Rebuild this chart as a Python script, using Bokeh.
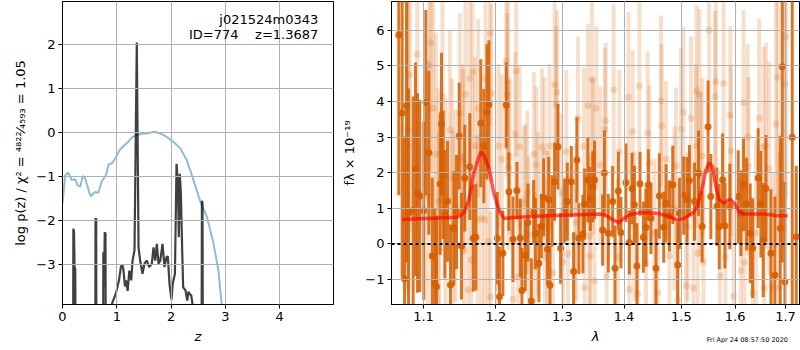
from bokeh.plotting import figure
from bokeh.models import ColumnDataSource, Range1d, FixedTicker, Label, Span, Div
from bokeh.layouts import row, column
from bokeh.embed import file_html
from bokeh.resources import INLINE
import pandas as pd

FONT = "DejaVu Sans"

# ---------------- left panel data: log p(z) ----------------
prior_z = [0.0, 0.05, 0.1, 0.14, 0.17, 0.23, 0.28, 0.33, 0.37, 0.42, 0.48, 0.52, 0.6, 0.66, 0.72,
           0.8, 0.85, 0.91, 0.97, 1.05, 1.13, 1.21, 1.28, 1.37, 1.46, 1.55, 1.69, 1.8, 1.92, 2.04,
           2.17, 2.29, 2.41, 2.53, 2.66, 2.78, 2.87, 2.93, 3.0]
prior_logp = [-1.61, -0.97, -0.91, -1.0, -1.08, -1.06, -1.2, -1.23, -0.99, -1.05, -1.31, -1.45, -1.35, -1.37, -1.12,
              -0.97, -0.72, -0.70, -0.59, -0.40, -0.30, -0.21, -0.11, -0.06, -0.03, -0.02, 0.02, -0.02, -0.10, -0.21,
              -0.36, -0.63, -1.08, -1.54, -1.92, -2.52, -3.13, -3.89, -4.5]

pz_z = [0.0, 0.19, 0.200, 0.212, 0.222, 0.235, 0.245,
        0.600, 0.608, 0.620, 0.628,
        0.745, 0.752, 0.765, 0.778, 0.792, 0.800,
        0.86, 0.92, 0.98, 1.04, 1.075, 1.10, 1.12, 1.15, 1.17, 1.20, 1.23, 1.265, 1.29, 1.326,
        1.35, 1.368, 1.387, 1.40, 1.43, 1.473, 1.51, 1.553, 1.597, 1.645, 1.676, 1.707, 1.737,
        1.768, 1.80, 1.842, 1.878, 1.915, 1.94, 1.97, 2.007, 2.03, 2.07, 2.10, 2.124, 2.142,
        2.16, 2.18, 2.204, 2.222, 2.265, 2.296, 2.32, 2.339, 2.37, 2.40, 2.42,
        2.555, 2.567, 2.578, 2.59, 4.99]
pz_logp = [-8, -8, -2.19, -2.25, -3.06, -3.1, -8,
           -8, -1.96, -1.96, -8,
           -8, -2.72, -3.5, -2.27, -2.3, -8,
           -4.2, -3.86, -3.67, -3.36, -3.06, -3.0, -3.1, -3.5, -3.36, -3.6, -3.14, -3.36, -2.91, -2.68,
           0.05, 2.05, -0.71, -2.61, -2.91, -3.21, -2.98, -2.91, -3.06, -2.98, -2.61, -2.91, -2.53,
           -2.98, -2.91, -2.53, -3.06, -2.83, -2.82, -3.44, -3.8, -3.44, -3.21, -0.71, -1.17, -2.38,
           -0.94, -1.39, -2.68, -3.52, -3.59, -3.82, -3.62, -3.67, -3.70, -3.95, -8,
           -8, -1.55, -1.6, -8, -8]

z_ticks = [0, 1, 2, 3, 4]
logp_ticks = [-3, -2, -1, 0, 1, 2]

# ---------------- right panel data: spectrum ----------------
dark_wave = [1.0678, 1.0722, 1.0752, 1.0778, 1.0804, 1.0864, 1.0895, 1.0921, 1.0951, 1.1004,
             1.1031, 1.1071, 1.1116, 1.1150, 1.1173, 1.1223, 1.1241, 1.1264, 1.1286, 1.1323,
             1.1363, 1.1409, 1.1446, 1.1483, 1.1514, 1.1560, 1.1630, 1.1678, 1.1715, 1.1785,
             1.1828, 1.1871, 1.1900, 1.2021, 1.2053, 1.2102, 1.2151, 1.2190, 1.2249, 1.2308,
             1.2358, 1.2382, 1.2433, 1.2472, 1.2523, 1.2558, 1.2584, 1.2638, 1.2675, 1.2709,
             1.2767, 1.2787, 1.2807, 1.2838, 1.2879, 1.2931, 1.2972, 1.3035, 1.3077, 1.3140,
             1.3176, 1.3228, 1.3260, 1.3324, 1.3351, 1.3404, 1.3443, 1.3485, 1.3513, 1.3644,
             1.3672, 1.3738, 1.3809, 1.3848, 1.3904, 1.3948, 1.4032, 1.4090, 1.4134, 1.4175,
             1.4219, 1.4271, 1.4329, 1.4374, 1.4416, 1.4460, 1.4548, 1.4607, 1.4684, 1.4725,
             1.4785, 1.4844, 1.4933, 1.4964, 1.5041, 1.5102, 1.5145, 1.5237, 1.5311, 1.5378,
             1.5489, 1.5540, 1.5653, 1.5697, 1.5761, 1.5805, 1.5900, 1.6060, 1.6112, 1.6164,
             1.6223, 1.6293, 1.6340, 1.6450, 1.6504, 1.6550, 1.6604, 1.6704, 1.6785, 1.6892,
             1.6933, 1.6988, 1.7138, 1.7221]
dark_flux = [5.87, 3.68, -0.98, 3.88, 0.87, 0.94, 2.1, 1.43, 1.35, 0.93,
             3.97, 2.56, -0.34, -1.09, -1.2, 1.69, 3.37, 1.94, 0.84, 1.2,
             -1.15, 0.44, 0.9, 3.03, -0.06, 1.85, 2.17, 0.16, 0.19, 3.39,
             2.75, 3.71, 3.92, 0.16, -1.48, -0.26, 3.9, 1.47, 0.13, 1.5,
             0.17, -1.31, -0.32, 0.6, -1.6, 0.9, 0.3, -0.54, 0.5, 1.31,
             -0.15, 1.24, -1.16, 0.93, 1.75, 2.73, -0.12, 0.94, 1.19, 1.75,
             -0.77, 2.36, 0.16, 0.28, 1.12, 1.8, 1.27, 1.61, 1.8, 0.39,
             1.99, 0.3, 1.19, -0.68, 1.49, 0.32, 1.72, 0.04, 1.56, 1.1,
             -0.62, 1.69, 0.19, 0.46, 1.66, 0.72, -0.68, 1.35, 0.47, 1.14,
             0.79, 1.66, -0.59, 0.86, 1.36, 1.24, 1.78, 1.19, 1.99, 0.49,
             3.29, 1.33, 1.05, 0.49, 1.8, 0.51, 1.05, 1.33, 0.86, 1.66,
             1.12, 0.3, -0.12, 1.85, 1.12, 0.11, 1.56, -0.26, -0.87, 0.44,
             4.98, -1.06, 3.0, 0.2]
dark_err = [4.5, 4.6, 4.0, 4.4, 3.5,
            3.2, 3.0, 2.8, 2.7, 2.5, 2.6, 2.3,
            2.2, 2.1, 2.0, 2.0, 2.0, 1.8, 1.8, 1.7, 1.7, 1.6, 1.6, 1.5, 1.5,
            1.5, 1.5, 1.5, 1.5, 1.8, 1.6, 1.9, 1.8,
            1.3, 1.4, 1.2, 1.2, 1.1, 1.2, 0.8, 1.1, 1.2, 1.0,
            1.1, 1.2, 0.9, 1.0, 1.1, 0.9, 1.1, 1.0, 1.2, 1.1,
            1.0, 1.1, 1.2, 1.0, 0.9, 1.1, 1.0, 1.1, 1.2, 1.0,
            1.1, 1.0, 1.2, 0.9, 1.0, 1.1, 1.0, 1.2, 1.1, 1.0,
            1.2, 1.1, 1.0, 1.1, 0.9, 1.0, 1.1, 1.2, 0.9, 1.0,
            1.1, 1.0, 1.0, 1.1, 1.2, 1.0, 1.1, 1.0, 1.1, 1.2,
            1.0, 1.1, 1.2, 1.0, 1.1, 1.2, 1.0,
            1.3, 1.2, 1.1, 1.2, 1.3, 1.2, 1.2, 1.3, 1.2, 1.3, 1.3, 1.4, 1.4,
            1.4, 1.5, 1.6, 1.5, 1.8,
            2.2, 2.6, 5.5, 2.8,
            8.0, 2.0]

light_wave = [1.0787, 1.0800, 1.0821, 1.0917, 1.1054, 1.1076, 1.1097, 1.1129, 1.1164, 1.1197,
              1.1207, 1.1254, 1.1295, 1.1354, 1.1386, 1.1400, 1.1432, 1.1491, 1.1524, 1.1538,
              1.1548, 1.1569, 1.1607, 1.1630, 1.1654, 1.1668, 1.1701, 1.1739, 1.1748, 1.1796,
              1.1843, 1.1852, 1.1891, 1.1914, 1.1924, 1.1938, 1.2029, 1.2038, 1.2087, 1.2151,
              1.2165, 1.2175, 1.2185, 1.2200, 1.2249, 1.2284, 1.2298, 1.2322, 1.2348, 1.2412,
              1.2437, 1.2463, 1.2483, 1.2562, 1.2572, 1.2598, 1.2623, 1.2683, 1.2724, 1.2732,
              1.2775, 1.2801, 1.2852, 1.2879, 1.2905, 1.2915, 1.2983, 1.3008, 1.3061, 1.3086,
              1.3193, 1.3220, 1.3245, 1.3341, 1.3352, 1.3406, 1.3432, 1.3441, 1.3469, 1.3485,
              1.3513, 1.3541, 1.3607, 1.3682, 1.3694, 1.3710, 1.3826, 1.3893, 1.3921, 1.4073,
              1.4090, 1.4146, 1.4175, 1.4232, 1.4260, 1.4374, 1.4403, 1.4433, 1.4519, 1.4578,
              1.4636, 1.4648, 1.4725, 1.4785, 1.4874, 1.4903, 1.4933, 1.4993, 1.5036, 1.5084,
              1.5114, 1.5175, 1.5218, 1.5266, 1.5275, 1.5297, 1.5329, 1.5347, 1.5384, 1.5402,
              1.5508, 1.5620, 1.5634, 1.5716, 1.5780, 1.5814, 1.5906, 1.5919, 1.5972, 1.6113,
              1.6164, 1.6180, 1.6243, 1.6258, 1.6340, 1.6405, 1.6470, 1.6558, 1.6570, 1.6604,
              1.6670, 1.6738, 1.6805, 1.6840, 1.6872, 1.6988, 1.7009]
light_flux = [3.22, 2.75, 4.75, 5.33, 1.35, 5.03, 5.65, 3.81, 2.53, 1.19,
              -0.17, 4.14, 1.19, 3.2, 1.85, 0.49, 1.07, 3.67, 2.45, 2.31,
              -0.17, 4.2, -1.29, 4.65, -0.45, 4.84, 2.76, 0.67, 3.81, 0.72,
              0.67, 4.65, 0.06, 5.92, -1.48, 4.23, -1.22, 2.75, 2.38, 5.14,
              4.19, 4.53, 2.13, 2.45, -1.55, 3.09, 4.86, -0.92, 2.73, 1.12,
              1.26, 1.44, 0.25, 2.53, -0.64, 2.22, 0.86, 2.73, 2.58, -0.37,
              0.41, 2.75, -0.8, 4.47, 3.92, 4.26, 1.44, -0.5, 2.59, -0.28,
              0.21, 0.6, 3.53, 2.75, -1.22, 3.88, 0.22, -0.34, 4.61, 2.47,
              -1.03, 3.81, 2.22, 3.22, 3.46, -0.9, 4.33, -0.37, 2.59, 4.12,
              -1.27, 3.15, 0.49, -1.4, 4.44, -0.54, 3.11, 2.27, 0.3, -1.38,
              4.02, 3.31, 2.38, -0.34, 1.0, 2.19, -1.57, 3.22, 3.7, -1.17,
              0.49, 3.53, -1.24, 2.75, 4.31, -0.26, 4.2, 1.94, 2.47, -0.5,
              6.01, 4.14, 4.56, -0.89, 4.51, -0.37, 3.62, 2.62, -1.46, -0.75,
              3.97, -0.52, 3.01, 2.19, -1.38, 0.3, 3.53, 2.73, -1.24, 2.75,
              2.13, -1.2, 3.37, 4.68, -1.24, 4.49, 5.81]
light_err = [4.5, 4.2, 4.4, 4.0, 3.8, 4.0, 3.6, 3.5, 3.4, 3.2, 3.3, 3.0,
             2.9, 2.8, 2.8, 2.7, 2.7, 2.8, 2.6, 2.6, 2.7, 2.6, 2.5, 2.6,
             2.5, 2.6, 2.5, 2.4, 2.5, 2.5, 2.4, 2.6, 2.5, 2.6, 2.4, 2.5,
             2.4, 2.3, 2.4, 2.5, 2.3, 2.4, 2.3, 2.2, 2.4, 2.3, 2.4, 2.2,
             2.3, 2.2, 2.1, 2.3, 2.2, 2.3, 2.1, 2.2, 2.3, 2.2, 2.1, 2.2,
             2.2, 2.3, 2.1, 2.4, 2.2, 2.3, 2.2, 2.1, 2.3, 2.2, 2.1, 2.2,
             2.3, 2.2, 2.1, 2.3, 2.2, 2.1, 2.4, 2.2, 2.1, 2.3, 2.2, 2.3,
             2.2, 2.1, 2.4, 2.2, 2.3, 2.4, 2.2, 2.3, 2.1, 2.2, 2.4, 2.2,
             2.3, 2.2, 2.1, 2.2, 2.4, 2.3, 2.2, 2.1, 2.3, 2.2, 2.2, 2.3,
             2.4, 2.2, 2.1, 2.3, 2.2, 2.3, 2.4, 2.2, 2.4, 2.3, 2.2, 2.3,
             2.6, 2.4, 2.5, 2.4, 2.5, 2.4, 2.5, 2.4, 2.5, 2.6, 2.6, 2.5,
             2.6, 2.5, 2.7, 2.6, 2.8, 2.8, 2.9, 2.9, 3.0, 3.2, 3.5, 3.8, 3.8, 4.2, 4.5]

model_wave = [1.0722, 1.1455, 1.1546, 1.1616, 1.1686, 1.1757, 1.1791, 1.1838, 1.1900, 1.1971,
              1.2044, 1.2117, 1.2513, 1.3024, 1.3608, 1.3710, 1.3830, 1.3914, 1.3998, 1.4112,
              1.4283, 1.4577, 1.4749, 1.4928, 1.5048, 1.5201, 1.5293, 1.5385, 1.5447, 1.5508,
              1.5572, 1.5634, 1.5697, 1.5792, 1.5900, 1.5996, 1.6078, 1.6176, 1.6570, 1.6840, 1.7044]
model_flux = [0.69, 0.75, 0.86, 1.24, 1.99, 2.45, 2.59, 2.45, 2.13, 1.42,
              0.96, 0.72, 0.77, 0.81, 0.84, 0.79, 0.66, 0.60, 0.72, 0.83,
              0.88, 0.86, 0.79, 0.67, 0.72, 0.86, 1.05, 1.61, 2.08, 2.28,
              2.17, 1.61, 1.24, 1.14, 1.26, 1.12, 0.91, 0.84, 0.84, 0.79, 0.79]

wave_ticks = [1.1, 1.2, 1.3, 1.4, 1.5, 1.6, 1.7]
wave_tick_labels = ["1.1", "1.2", "1.3", "1.4", "1.5", "1.6", "1.7"]
flux_ticks = [-1, 0, 1, 2, 3, 4, 5, 6]

title_name = "j021524m0343"
title_id = "ID=774\u00a0\u00a0\u00a0\u00a0z=1.3687"
timestamp = "Fri Apr 24 08:57:50 2020"

GRISM = "#d55e00"


def minus(v):
    return str(v).replace("-", "\u2212")


def style(p):
    p.background_fill_color = "white"
    p.border_fill_color = "white"
    p.outline_line_color = "black"
    p.outline_line_alpha = 1.0
    p.outline_line_width = 1
    for ax in p.axis:
        ax.major_label_text_font = FONT
        ax.major_label_text_font_size = "13px"
        ax.major_label_text_color = "black"
        ax.axis_label_text_font = FONT
        ax.axis_label_text_font_size = "13px"
        ax.axis_label_text_font_style = "normal"
        ax.axis_label_text_color = "black"
        ax.minor_tick_line_color = None
        ax.major_tick_out = 4
        ax.major_tick_in = 0
        ax.major_tick_line_color = "black"
        ax.axis_line_color = "black"
        ax.major_label_standoff = 3
        ax.axis_label_standoff = 5
    for g in p.grid:
        g.grid_line_color = "#b0b0b0"
        g.grid_line_width = 1
        g.level = "annotation"


# ---------------- left figure ----------------
p1 = figure(width=338, height=350, output_backend="svg", toolbar_location=None,
            x_range=Range1d(0, 4.99), y_range=Range1d(-3.91, 2.98),
            min_border_left=62, min_border_right=5, min_border_top=1, min_border_bottom=46)
p1.line(prior_z, prior_logp, line_color="#1f77b4", line_alpha=0.5, line_width=2)
p1.line(pz_z, pz_logp, line_color="black", line_alpha=0.75, line_width=2.2)
p1.xaxis.ticker = FixedTicker(ticks=z_ticks)
p1.yaxis.ticker = FixedTicker(ticks=logp_ticks)
p1.yaxis.major_label_overrides = {t: minus(t) for t in logp_ticks}
p1.xaxis.axis_label = "z"
p1.yaxis.axis_label = "log p(z) / \u03c7\u00b2 = \u2074\u2078\u00b2\u00b2\u2044\u2084\u2085\u2089\u2083 = 1.05"
style(p1)
p1.xaxis.axis_label_text_font_style = "italic"
p1.add_layout(Label(x=4.71, y=2.56, text=title_name, text_align="right", text_baseline="middle",
                    text_font=FONT, text_font_size="13px", text_color="black"))
p1.add_layout(Label(x=4.71, y=2.22, text=title_id, text_align="right", text_baseline="middle",
                    text_font=FONT, text_font_size="13px", text_color="black"))

# ---------------- right figure ----------------
dark = pd.DataFrame({"w": dark_wave, "f": dark_flux, "e": dark_err})
dark["lo"] = dark["f"] - dark["e"]
dark["hi"] = dark["f"] + dark["e"]
light = pd.DataFrame({"w": light_wave, "f": light_flux, "e": light_err})
light["lo"] = light["f"] - light["e"]
light["hi"] = light["f"] + light["e"]
src_d = ColumnDataSource(dark)
src_l = ColumnDataSource(light)

p2 = figure(width=462, height=350, output_backend="svg", toolbar_location=None,
            x_axis_type="log", x_range=Range1d(1.0585, 1.7288), y_range=Range1d(-1.70, 6.81),
            min_border_left=53, min_border_right=1, min_border_top=1, min_border_bottom=46)
p2.segment(x0="w", y0="lo", x1="w", y1="hi", source=src_l, line_color=GRISM, line_alpha=0.2, line_width=4)
p2.scatter(x="w", y="f", source=src_l, marker="circle", size=7, fill_color=GRISM, line_color=None, fill_alpha=0.2)
p2.segment(x0="w", y0="lo", x1="w", y1="hi", source=src_d, line_color=GRISM, line_alpha=0.85, line_width=3)
p2.scatter(x="w", y="f", source=src_d, marker="circle", size=7, fill_color=GRISM, line_color=None, fill_alpha=0.9)
p2.line(model_wave, model_flux, line_color="red", line_alpha=0.65, line_width=3.5, level="overlay")
p2.add_layout(Span(location=0, dimension="width", line_color="black", line_dash="3 3", line_width=2))
p2.xaxis.ticker = FixedTicker(ticks=wave_ticks, minor_ticks=[])
p2.xaxis.major_label_overrides = dict(zip(wave_ticks, wave_tick_labels))
p2.yaxis.ticker = FixedTicker(ticks=flux_ticks)
p2.yaxis.major_label_overrides = {t: minus(t) for t in flux_ticks}
p2.xaxis.axis_label = "\u03bb"
p2.yaxis.axis_label = "f\u03bb \u00d7 10\u207b\u00b9\u2079"
style(p2)
p2.xaxis.axis_label_text_font_style = "italic"

stamp = Div(text=timestamp, width=90, height=12, margin=(-16, 0, 0, 698),
            styles={"font-family": FONT, "font-size": "6.5px", "line-height": "12px",
                    "text-align": "right", "color": "black", "white-space": "nowrap"})

layout = column(row(p1, p2), stamp)
open("out.html", "w").write(file_html(layout, INLINE))
